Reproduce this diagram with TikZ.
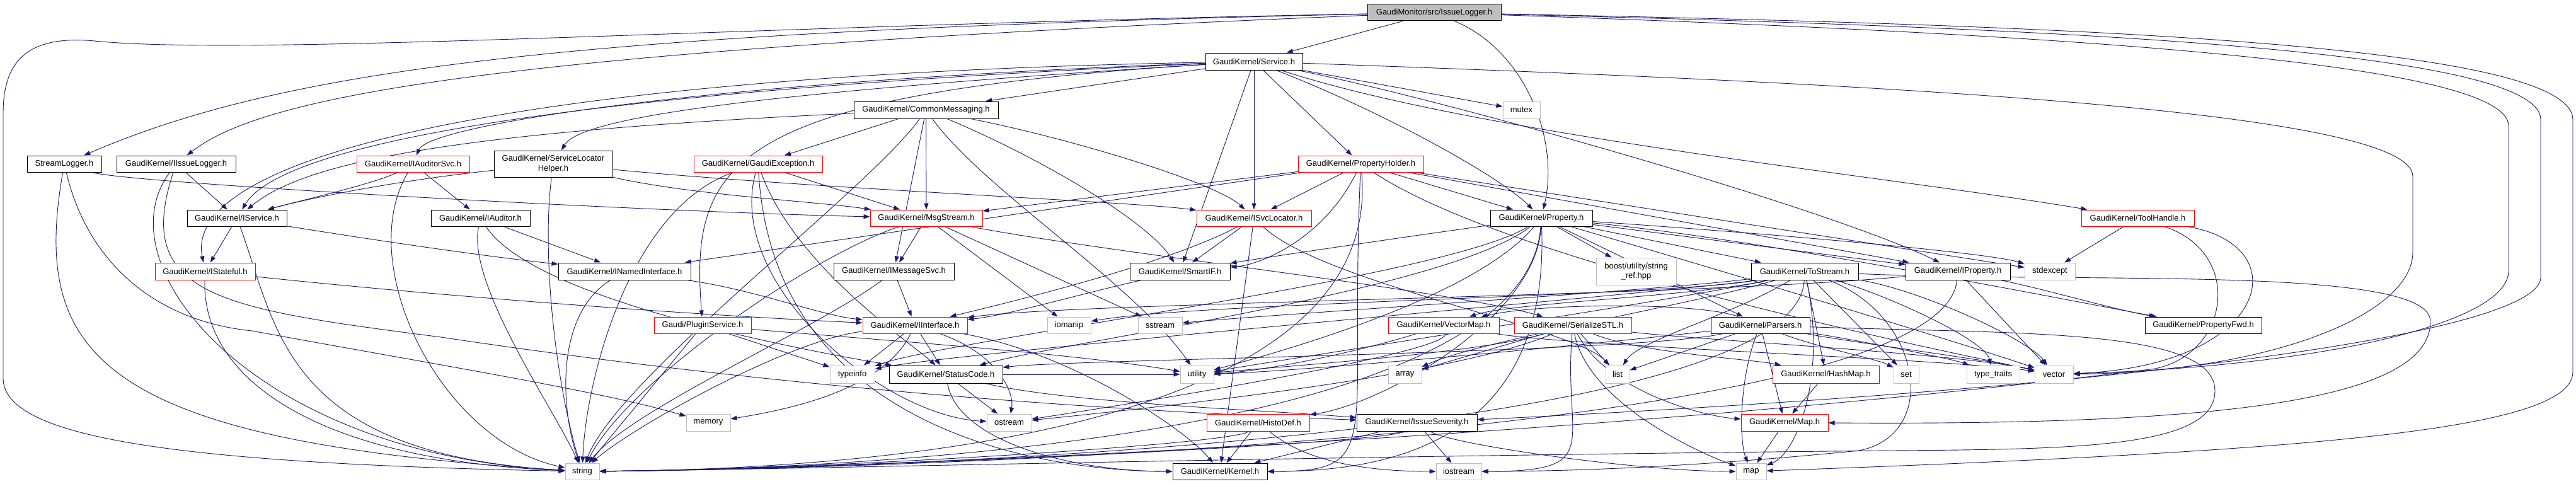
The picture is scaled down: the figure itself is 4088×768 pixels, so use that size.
\documentclass[tikz,border=0pt]{standalone}
\usepackage{fontspec}
\setmainfont{Liberation Sans}
\usetikzlibrary{arrows.meta}
\pgfdeclarelayer{background}
\pgfsetlayers{background,main}
\definecolor{edgec}{HTML}{191970}
\definecolor{grayb}{HTML}{BFBFBF}
\definecolor{grayf}{HTML}{BFBFBF}
\newcommand\fsz{\fontsize{13pt}{15.5pt}\selectfont}
\newcommand\edS[2]{\draw[e] (#1) .. controls (#2,705) and (1300,745) .. (str);}
\newcommand\edKR[2]{\draw[e] (#1) .. controls (#2,705) and (2200,748) .. (ker);}
\newcommand\edKL[2]{\draw[e] (#1) .. controls (#2,705) and (1700,748) .. (ker);}
\newcommand\edIR[2]{\draw[e] (#1) .. controls (#2,705) and (2550,748) .. (ios);}
\newcommand\edIL[2]{\draw[e] (#1) .. controls (#2,705) and (2100,748) .. (ios);}
\newcommand\edML[2]{\draw[e] (#1) .. controls (#2,705) and (2600,748) .. (map);}
\tikzset{
 nbox/.style={rectangle, inner sep=0pt, font=\fsz, align=center, fill=white, line width=1pt, minimum height=26pt, text=black},
 nb/.style={nbox, draw=black},
 nr/.style={nbox, draw=red},
 ng/.style={nbox, draw=grayb},
 ntop/.style={nbox, draw=black, fill=grayf},
 e/.style={draw=edgec, line width=0.9pt, -{Triangle[length=10pt,width=7pt]}},
}
\begin{document}
\begin{tikzpicture}[x=1pt,y=-1pt]
\useasboundingbox (0,0) rectangle (4088,768);
% nodes
\node[ntop,minimum width=212pt] (top) at (2276,20) {GaudiMonitor/src/IssueLogger.h};
\node[nb,minimum width=154pt,minimum height=27pt] (svc) at (1990,97.5) {GaudiKernel/Service.h};
\node[nb,minimum width=229pt,minimum height=27pt] (cm) at (1469.5,174.5) {GaudiKernel/CommonMessaging.h};
\node[ng,minimum width=59pt,minimum height=27pt] (mutex) at (2414.5,174.5) {mutex};
\node[nb,minimum width=118pt] (sl) at (102,260) {StreamLogger.h};
\node[nb,minimum width=189pt] (iil) at (279.5,260) {GaudiKernel/IIssueLogger.h};
\node[nr,minimum width=179pt] (ias) at (655.5,260) {GaudiKernel/IAuditorSvc.h};
\node[nb,minimum width=188pt,minimum height=42pt] (slh) at (878,260) {GaudiKernel/ServiceLocator\\Helper.h};
\node[nr,minimum width=204pt] (gex) at (1203,260) {GaudiKernel/GaudiException.h};
\node[nr,minimum width=199pt] (ph) at (2159.5,260) {GaudiKernel/PropertyHolder.h};
\node[nb,minimum width=158pt] (isv) at (376,346) {GaudiKernel/IService.h};
\node[nb,minimum width=157pt] (iau) at (762.5,346) {GaudiKernel/IAuditor.h};
\node[nr,minimum width=178pt] (ms) at (1470,346) {GaudiKernel/MsgStream.h};
\node[nr,minimum width=182pt] (isl) at (1990,346) {GaudiKernel/ISvcLocator.h};
\node[nb,minimum width=162pt] (prop) at (2446,346) {GaudiKernel/Property.h};
\node[nr,minimum width=179pt] (th) at (3392.5,346) {GaudiKernel/ToolHandle.h};
\node[nr,minimum width=159pt,minimum height=27pt] (ist) at (325.5,430.5) {GaudiKernel/IStateful.h};
\node[nb,minimum width=210pt,minimum height=27pt] (ini) at (991,430.5) {GaudiKernel/INamedInterface.h};
\node[nb,minimum width=191pt,minimum height=27pt] (ims) at (1418.5,430.5) {GaudiKernel/IMessageSvc.h};
\node[nb,minimum width=159pt,minimum height=27pt] (sif) at (1872.5,430.5) {GaudiKernel/SmartIF.h};
\node[ng,minimum width=127pt,minimum height=43pt] (bst) at (2596.5,430.5) {boost/utility/string\\\_ref.hpp};
\node[nb,minimum width=170pt,minimum height=27pt] (tos) at (2864,430.5) {GaudiKernel/ToStream.h};
\node[nb,minimum width=166pt,minimum height=27pt] (ipr) at (3107,430.5) {GaudiKernel/IProperty.h};
\node[ng,minimum width=80pt,minimum height=27pt] (stde) at (3253,430.5) {stdexcept};
\node[nr,minimum width=154pt] (plg) at (1115,516) {Gaudi/PluginService.h};
\node[nr,minimum width=166pt] (iif) at (1452,516) {GaudiKernel/IInterface.h};
\node[ng,minimum width=69pt] (iom) at (1696.5,516) {iomanip};
\node[ng,minimum width=70pt] (sst) at (1841,516) {sstream};
\node[nr,minimum width=176pt] (vm) at (2291,516) {GaudiKernel/VectorMap.h};
\node[nr,minimum width=186pt] (ser) at (2496,516) {GaudiKernel/SerializeSTL.h};
\node[nb,minimum width=157pt] (par) at (2793.5,516) {GaudiKernel/Parsers.h};
\node[nb,minimum width=185pt] (pfw) at (3496.5,516) {GaudiKernel/PropertyFwd.h};
\node[ng,minimum width=71pt,minimum height=28pt] (tinf) at (1352.5,594) {typeinfo};
\node[nb,minimum width=180pt,minimum height=28pt] (sc) at (1501,594) {GaudiKernel/StatusCode.h};
\node[ng,minimum width=53pt,minimum height=28pt] (util) at (1899.5,594) {utility};
\node[ng,minimum width=53pt,minimum height=28pt] (arr) at (2229.5,594) {array};
\node[nr,minimum width=169pt,minimum height=28pt] (hm) at (2897.5,594) {GaudiKernel/HashMap.h};
\node[ng,minimum width=38pt,minimum height=28pt] (lst) at (2567,594) {list};
\node[ng,minimum width=40pt,minimum height=28pt] (set) at (3025,594) {set};
\node[ng,minimum width=84pt,minimum height=28pt] (tt) at (3163,594) {type\_traits};
\node[ng,minimum width=61pt,minimum height=28pt] (vec) at (3259.5,594) {vector};
\node[ng,minimum width=70pt,minimum height=27pt] (mem) at (1124,670.5) {memory};
\node[ng,minimum width=71pt,minimum height=27pt] (ost) at (1601.5,670.5) {ostream};
\node[nr,minimum width=163pt,minimum height=27pt] (hd) at (1996.5,670.5) {GaudiKernel/HistoDef.h};
\node[nb,minimum width=191pt,minimum height=27pt] (iss) at (2248.5,670.5) {GaudiKernel/IssueSeverity.h};
\node[nr,minimum width=138pt,minimum height=27pt] (maph) at (2832,670.5) {GaudiKernel/Map.h};
\node[ng,minimum width=54pt] (str) at (924,748) {string};
\node[nb,minimum width=150pt] (ker) at (1936,748) {GaudiKernel/Kernel.h};
\node[ng,minimum width=72pt] (ios) at (2315,748) {iostream};
\node[ng,minimum width=48pt] (map) at (2779,748) {map};
% waypoints
\coordinate (wl0) at (150,65);
\coordinate (wl1) at (5,180);
\coordinate (wl2) at (5,600);
\coordinate (wa1) at (4083,190);
\coordinate (wa2) at (4083,590);
\coordinate (wb1) at (4032,190);
\coordinate (wb2) at (4032,440);
\coordinate (wc1) at (3981,200);
\coordinate (wc2) at (3981,430);
\coordinate (wd1) at (3829,280);
\coordinate (wd2) at (3829,400);
\coordinate (wt1) at (3857,510);
\coordinate (wt2) at (2950,715);
\coordinate (wp1) at (3515,620);
\coordinate (wp2) at (3000,715);
\coordinate (wi1) at (700,535);
\coordinate (wsm) at (400,525);
\coordinate (wth) at (3420,585);
\begin{pgfonlayer}{background}
\fill[white] (0,0) rectangle (4088,768);
% top
\draw[e] (top) -- (svc);
\draw[e] (top) .. controls (900,50) and (450,110) .. (sl);
\draw[e] (top) .. controls (800,80) and (420,150) .. (iil);
\draw[e] (top) .. controls (1200,40) and (400,90) .. (wl0) .. controls (40,55) and (5,100) .. (wl1) -- (wl2) .. controls (5,690) and (250,735) .. (str);
\draw[e] (top) .. controls (2420,80) and (2475,220) .. (prop);
\draw[e] (top) .. controls (3300,40) and (4083,70) .. (wa1) -- (wa2) .. controls (4083,680) and (3700,715) .. (map);
\draw[e] (top) .. controls (3300,45) and (4032,80) .. (wb1) -- (wb2) .. controls (4032,520) and (3500,610) .. (iss);
\draw[e] (top) .. controls (3300,55) and (3981,100) .. (wc1) -- (wc2) .. controls (3981,510) and (3700,580) .. (vec);
% Service
\draw[e] (svc) -- (cm);
\draw[e] (svc) -- (isl);
\draw[e] (svc) -- (sif);
\draw[e] (svc) -- (ph);
\draw[e] (svc) .. controls (2200,180) and (2380,280) .. (prop);
\draw[e] (svc) -- (mutex);
\draw[e] (svc) .. controls (2350,215) and (3000,280) .. (th);
\draw[e] (svc) .. controls (2300,160) and (2900,330) .. (ipr);
\draw[e] (svc) .. controls (2900,130) and (3829,170) .. (wd1) -- (wd2) .. controls (3829,500) and (3600,590) .. (vec);
\draw[e] (svc) .. controls (800,120) and (290,250) .. (ist);
\draw[e] (svc) .. controls (800,150) and (440,240) .. (isv);
\draw[e] (svc) .. controls (1100,130) and (680,200) .. (ias);
\draw[e] (svc) .. controls (1150,150) and (920,190) .. (slh);
\draw[e] (svc) .. controls (1150,150) and (1095,260) .. (plg);
% CommonMessaging
\draw[e] (cm) .. controls (700,210) and (480,260) .. (isv);
\draw[e] (cm) -- (gex);
\draw[e] (cm) -- (ms);
\draw[e] (cm) .. controls (1700,220) and (1930,290) .. (isl);
\draw[e] (cm) -- (ims);
\draw[e] (cm) .. controls (1650,250) and (1820,350) .. (sif);
\draw[e] (cm) .. controls (1380,300) and (980,600) .. (str);
\draw[e] (cm) .. controls (1560,300) and (1800,450) .. (util);
% MsgStream
\draw[e] (ms) -- (ims);
\draw[e] (ms) .. controls (1750,400) and (2300,460) .. (ser);
\draw[e] (ms) -- (iom);
\draw[e] (ms) -- (sst);
\draw[e] (ms) .. controls (1300,400) and (1000,600) .. (str);
% GaudiException
\draw[e] (gex) -- (ms);
\draw[e] (gex) .. controls (1000,330) and (930,600) .. (str);
\draw[e] (gex) .. controls (1260,420) and (1440,540) .. (sc);
\draw[e] (gex) .. controls (1150,450) and (1400,660) .. (ost);
\edKL{gex}{1230}
% ServiceLocatorHelper
\draw[e] (slh) .. controls (600,290) and (470,320) .. (isv);
\draw[e] (slh) .. controls (860,400) and (880,600) .. (str);
\draw[e] (slh) .. controls (1100,310) and (1300,320) .. (ms);
\draw[e] (slh) .. controls (1300,300) and (1800,320) .. (isl);
% PropertyHolder
\draw[e] (ph) -- (ms);
\draw[e] (ph) -- (ini);
\draw[e] (ph) -- (isl);
\draw[e] (ph) -- (prop);
\draw[e] (ph) -- (ipr);
\draw[e] (ph) -- (stde);
\draw[e] (ph) .. controls (2100,380) and (2000,420) .. (sif);
\edKR{ph}{2140}
\edS{ph}{2200}
\draw[e] (ph) .. controls (2400,420) and (3100,560) .. (vec);
% IAuditorSvc
\draw[e] (ias) .. controls (600,290) and (470,320) .. (isv);
\draw[e] (ias) -- (iau);
\draw[e] (ias) .. controls (560,420) and (700,700) .. (str);
% IAuditor
\draw[e] (iau) -- (ini);
\draw[e] (iau) .. controls (740,450) and (880,650) .. (str);
\draw[e] (iau) .. controls (850,480) and (1300,560) .. (sc);
% IIssueLogger
\draw[e] (iil) -- (isv);
\draw[e] (iil) .. controls (160,420) and (400,720) .. (str);
\draw[e] (iil) .. controls (210,470) and (350,490) .. (wi1) .. controls (1400,640) and (2000,660) .. (iss);
% StreamLogger
\draw[e] (sl) .. controls (200,290) and (1000,335) .. (ms);
\draw[e] (sl) .. controls (50,560) and (150,700) .. (str);
\draw[e] (sl) .. controls (140,420) and (250,510) .. (wsm) .. controls (700,580) and (950,620) .. (mem);
% IService
\draw[e] (isv) .. controls (650,390) and (800,410) .. (ini);
\draw[e] (isv) -- (ist);
\draw[e] (isv) .. controls (440,520) and (450,720) .. (str);
% IStateful
\draw[e] (ist) .. controls (700,470) and (1100,500) .. (iif);
\draw[e] (ist) .. controls (320,600) and (500,730) .. (str);
% INamedInterface
\draw[e] (ini) .. controls (1200,460) and (1300,500) .. (iif);
\draw[e] (ini) .. controls (880,500) and (890,650) .. (str);
% IMessageSvc
\draw[e] (ims) -- (iif);
\draw[e] (ims) .. controls (1300,520) and (1000,650) .. (str);
% SmartIF
\draw[e] (sif) .. controls (1700,470) and (1600,500) .. (iif);
% ISvcLocator
\draw[e] (isl) -- (sif);
\draw[e] (isl) .. controls (1850,420) and (1600,480) .. (iif);
\draw[e] (isl) -- (ker);
\draw[e] (isl) .. controls (2100,450) and (2500,520) .. (lst);
% PluginService
\draw[e] (plg) -- (str);
\draw[e] (plg) -- (tinf);
\draw[e] (plg) .. controls (1400,540) and (1700,560) .. (util);
% IInterface
\draw[e] (iif) -- (sc);
\draw[e] (iif) -- (tinf);
\draw[e] (iif) .. controls (1580,560) and (1610,620) .. (ost);
\draw[e] (iif) .. controls (1700,560) and (1880,680) .. (ker);
\draw[e] (iif) .. controls (1250,540) and (1000,680) .. (str);
\draw[e] (iif) .. controls (1400,620) and (1250,650) .. (mem);
% StatusCode
\draw[e] (sc) -- (ost);
\draw[e] (sc) .. controls (1520,700) and (1700,748) .. (ker);
\draw[e] (sc) -- (util);
\draw[e] (sc) .. controls (1700,640) and (2000,650) .. (iss);
% HistoDef
\draw[e] (hd) -- (ker);
\edIL{hd}{2040}
\edS{hd}{1960}
% IssueSeverity
\draw[e] (iss) -- (ios);
\edS{iss}{2200}
\edML{iss}{2300}
\draw[e] (iss) -- (ker);
% VectorMap
\draw[e] (vm) .. controls (2150,560) and (2000,590) .. (util);
\draw[e] (vm) .. controls (2300,560) and (1800,640) .. (ost);
\draw[e] (vm) .. controls (2500,550) and (3100,570) .. (vec);
% SerializeSTL
\draw[e] (ser) -- (arr);
\draw[e] (ser) -- (lst);
\draw[e] (ser) .. controls (2520,640) and (2700,720) .. (map);
\draw[e] (ser) .. controls (2300,600) and (1800,650) .. (ost);
\draw[e] (ser) .. controls (2700,540) and (3100,560) .. (vec);
\draw[e] (ser) .. controls (2350,560) and (2050,580) .. (util);
\draw[e] (ser) .. controls (2600,560) and (2780,570) .. (hm);
\draw[e] (ser) .. controls (2550,620) and (2700,660) .. (maph);
\edIR{ser}{2480}
% Parsers
\draw[e] (par) .. controls (2700,480) and (2450,480) .. (vm);
\draw[e] (par) .. controls (2760,600) and (2760,700) .. (map);
\draw[e] (par) -- (maph);
\draw[e] (par) .. controls (2880,550) and (2980,570) .. (set);
\draw[e] (par) .. controls (2950,545) and (3150,570) .. (vec);
\draw[e] (par) .. controls (2950,540) and (3100,570) .. (tt);
\draw[e] (par) -- (lst);
\draw[e] (par) .. controls (2600,560) and (1700,570) .. (sc);
\draw[e] (par) .. controls (2500,550) and (2050,590) .. (util);
\draw[e] (par) .. controls (3200,530) and (3515,520) .. (wp1) .. controls (3515,710) and (3300,713) .. (wp2) .. controls (2000,725) and (1300,744) .. (str);
% ToStream
\draw[e] (tos) -- (hm);
\draw[e] (tos) -- (set);
\draw[e] (tos) .. controls (2750,500) and (2600,540) .. (lst);
\draw[e] (tos) .. controls (3000,470) and (3150,540) .. (tt);
\draw[e] (tos) .. controls (3050,460) and (3220,540) .. (vec);
\draw[e] (tos) .. controls (2650,470) and (1900,480) .. (iom);
\draw[e] (tos) .. controls (2650,460) and (2000,500) .. (sst);
\draw[e] (tos) .. controls (2700,480) and (2350,540) .. (arr);
\draw[e] (tos) .. controls (2700,470) and (2100,560) .. (util);
\draw[e] (tos) .. controls (2700,460) and (1500,560) .. (tinf);
\draw[e] (tos) .. controls (2700,470) and (2400,480) .. (vm);
\draw[e] (tos) .. controls (3050,500) and (3080,690) .. (wt2) .. controls (2700,740) and (2500,748) .. (ios);
\draw[e] (tos) .. controls (3300,450) and (3857,420) .. (wt1) .. controls (3857,640) and (3500,675) .. (maph);
\draw[e] (tos) .. controls (2900,600) and (2850,720) .. (map);
\edS{tos}{2850}
% Property
\draw[e] (prop) -- (tos);
\draw[e] (prop) -- (ipr);
\draw[e] (prop) .. controls (2800,380) and (3300,480) .. (pfw);
\draw[e] (prop) .. controls (2440,500) and (2200,640) .. (hd);
\draw[e] (prop) -- (bst);
\draw[e] (prop) .. controls (2200,380) and (2000,410) .. (sif);
\draw[e] (prop) .. controls (2300,460) and (1700,540) .. (sc);
\edS{prop}{2420}
\draw[e] (prop) .. controls (2700,420) and (3100,540) .. (vec);
\draw[e] (prop) .. controls (2800,370) and (3150,400) .. (stde);
\draw[e] (prop) .. controls (2600,420) and (2700,470) .. (par);
\draw[e] (prop) .. controls (2350,460) and (2100,540) .. (util);
\draw[e] (prop) .. controls (2300,440) and (1500,540) .. (tinf);
\edKR{prop}{2460}
% IProperty
\draw[e] (ipr) .. controls (2700,470) and (1700,480) .. (iif);
\draw[e] (ipr) .. controls (3250,460) and (3350,490) .. (pfw);
\edS{ipr}{3080}
\draw[e] (ipr) -- (vec);
% ToolHandle
\draw[e] (th) -- (stde);
\draw[e] (th) .. controls (3650,390) and (3600,580) .. (vec);
\draw[e] (th) .. controls (3560,400) and (3540,560) .. (wth) .. controls (2500,700) and (1300,744) .. (str);
% maps
\draw[e] (hm) -- (maph);
\draw[e] (maph) -- (map);
\end{pgfonlayer}
\end{tikzpicture}
\end{document}
